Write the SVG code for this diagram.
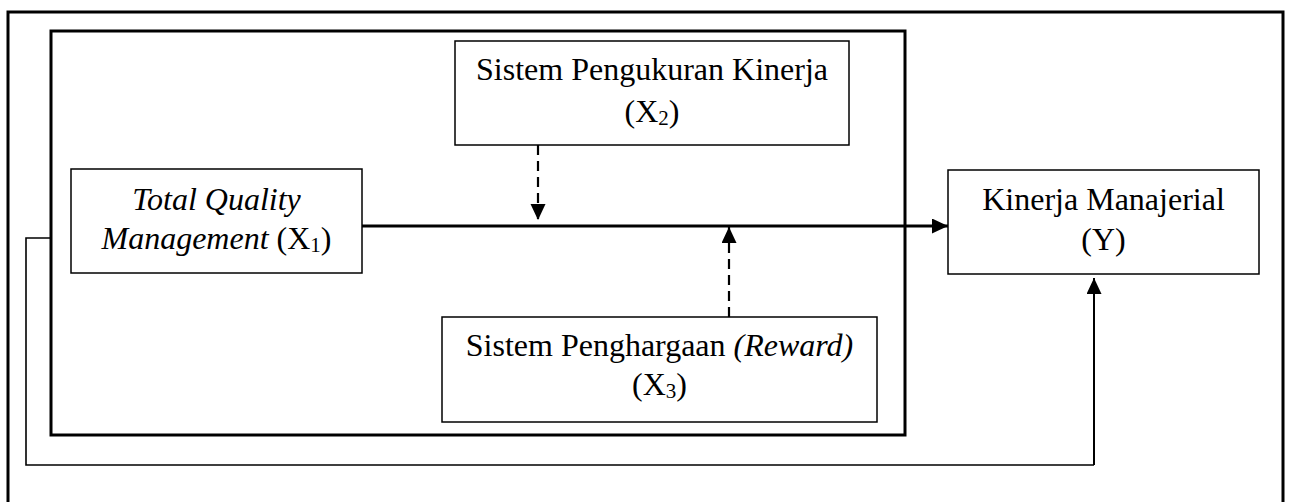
<svg xmlns="http://www.w3.org/2000/svg" width="1290" height="502" viewBox="0 0 1290 502">
<style>
.frame{fill:none;stroke:#000;stroke-width:3}
.box{fill:#fff;stroke:#000;stroke-width:1.5}
.t{font-family:"Liberation Serif","Times New Roman",serif;font-size:32px;fill:#000;text-anchor:middle}
.i{font-style:italic}
.sub{font-size:21px}
.main{fill:none;stroke:#000;stroke-width:3.2}
.dash{fill:none;stroke:#000;stroke-width:2.2;stroke-dasharray:10 6}
.thin{fill:none;stroke:#000;stroke-width:1.6}
.thin2{fill:none;stroke:#000;stroke-width:2}
</style>
<defs>
<marker id="ah" markerUnits="userSpaceOnUse" markerWidth="18" markerHeight="16" refX="16" refY="7.5" orient="auto">
<path d="M0,0 L16,7.5 L0,15 Z" fill="#000"/>
</marker>
</defs>
<rect width="1290" height="502" fill="#fff"/>
<g id="outer-frame"><path class="frame" d="M8,520 L8,12 L1283,12 L1283,520"/></g>
<g id="inner-frame"><rect class="frame" x="51" y="31" width="854" height="404"/></g>
<g id="connectors">
<line class="main" x1="362" y1="226" x2="948" y2="226" marker-end="url(#ah)"/>
<line class="dash" x1="538" y1="145" x2="538" y2="220" marker-end="url(#ah)"/>
<line class="dash" x1="729" y1="317" x2="729" y2="227" marker-end="url(#ah)"/>
<path class="thin" d="M51,238 L26,238 L26,465 L1094,465"/>
<line class="thin2" x1="1094" y1="465" x2="1094" y2="278" marker-end="url(#ah)"/>
</g>
<g id="node-x1">
<rect class="box" x="71" y="169" width="291" height="104"/>
<text class="t i" x="216.5" y="210">Total Quality</text>
<text class="t" x="216.5" y="249"><tspan class="i">Management</tspan> (X<tspan class="sub" dy="3">1</tspan><tspan dy="-3">)</tspan></text>
</g>
<g id="node-x2">
<rect class="box" x="455" y="41" width="394" height="104"/>
<text class="t" x="652" y="80">Sistem Pengukuran Kinerja</text>
<text class="t" x="652" y="122">(X<tspan class="sub" dy="3">2</tspan><tspan dy="-3">)</tspan></text>
</g>
<g id="node-x3">
<rect class="box" x="442" y="317" width="435" height="105"/>
<text class="t" x="659.5" y="356">Sistem Penghargaan <tspan class="i">(Reward)</tspan></text>
<text class="t" x="659.5" y="395">(X<tspan class="sub" dy="3">3</tspan><tspan dy="-3">)</tspan></text>
</g>
<g id="node-y">
<rect class="box" x="948" y="170" width="311" height="104"/>
<text class="t" x="1103.5" y="210">Kinerja Manajerial</text>
<text class="t" x="1103.5" y="250">(Y)</text>
</g>
</svg>
